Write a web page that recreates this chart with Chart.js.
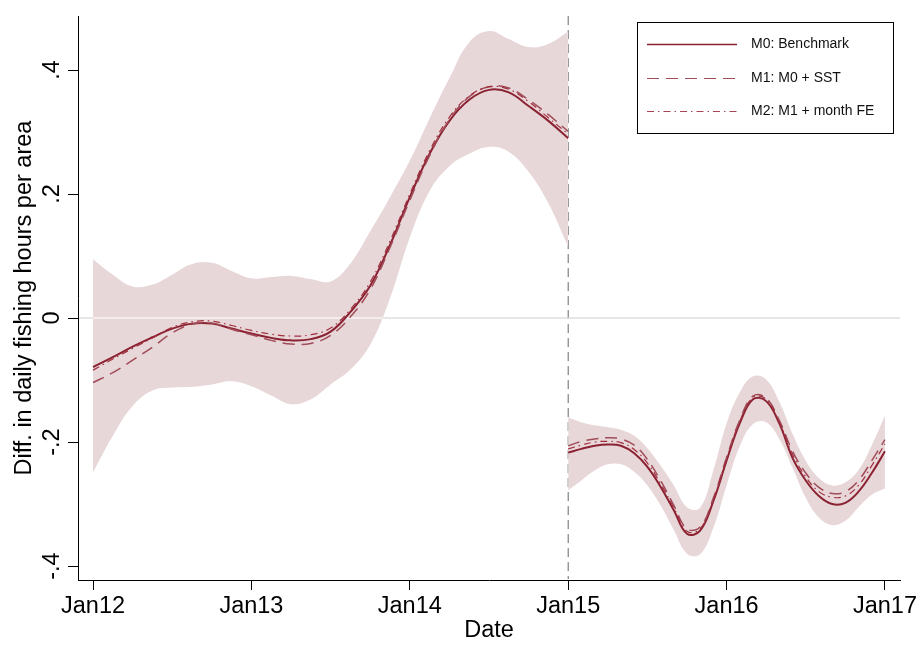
<!DOCTYPE html>
<html lang="en">
<head>
  <meta charset="UTF-8" />
  <title>Diff. in daily fishing hours per area</title>
  <script src="https://cdn.jsdelivr.net/npm/chart.js"></script>
  <style>
    body {
      margin: 0;
      background: #ffffff;
    }
    #wrap {
      width: 923px;
      height: 645px;
    }
  </style>
</head>
<body>
  <div id="wrap"><canvas id="fishChart" width="923" height="645"></canvas></div>

  <script>
    // x positions in years (Jan12 = 2012)
    const preYears = [2012, 2012.125, 2012.25, 2012.375, 2012.5, 2012.625, 2012.75, 2012.875,
      2013, 2013.125, 2013.25, 2013.375, 2013.5, 2013.625, 2013.75, 2013.875,
      2014, 2014.125, 2014.25, 2014.375, 2014.5, 2014.625, 2014.75, 2014.875, 2015];
    const preM0 = [-0.079, -0.063, -0.046, -0.031, -0.017, -0.009, -0.009, -0.017,
      -0.025, -0.032, -0.036, -0.034, -0.022, 0.010, 0.052, 0.118,
      0.195, 0.265, 0.318, 0.352, 0.368, 0.364, 0.342, 0.318, 0.290];
    const preM1 = [-0.104, -0.088, -0.068, -0.047, -0.024, -0.010, -0.008, -0.018,
      -0.027, -0.036, -0.042, -0.041, -0.028, 0.002, 0.046, 0.114,
      0.190, 0.262, 0.320, 0.357, 0.373, 0.371, 0.352, 0.328, 0.301];
    const preM2 = [-0.084, -0.066, -0.049, -0.032, -0.015, -0.006, -0.005, -0.012,
      -0.020, -0.026, -0.029, -0.027, -0.016, 0.014, 0.058, 0.124,
      0.200, 0.270, 0.324, 0.358, 0.373, 0.369, 0.349, 0.323, 0.297];
    const preUpper = [0.095, 0.070, 0.051, 0.054, 0.070, 0.087, 0.089, 0.076,
      0.064, 0.066, 0.068, 0.063, 0.059, 0.088, 0.140, 0.195,
      0.254, 0.322, 0.387, 0.445, 0.463, 0.450, 0.437, 0.442, 0.462];
    const preLower = [-0.249, -0.190, -0.142, -0.117, -0.112, -0.111, -0.107, -0.102,
      -0.110, -0.125, -0.139, -0.131, -0.107, -0.083, -0.043, 0.032,
      0.130, 0.205, 0.245, 0.265, 0.276, 0.268, 0.236, 0.185, 0.115];

    const postYears = [2015, 2015.083, 2015.167, 2015.25, 2015.333, 2015.417, 2015.5, 2015.583,
      2015.667, 2015.75, 2015.833, 2015.917, 2016, 2016.083, 2016.167, 2016.25,
      2016.333, 2016.417, 2016.5, 2016.583, 2016.667, 2016.75, 2016.833, 2016.917, 2017];
    const postM0 = [-0.217, -0.211, -0.206, -0.204, -0.206, -0.218, -0.240, -0.272,
      -0.310, -0.348, -0.343, -0.295, -0.230, -0.170, -0.131, -0.134,
      -0.170, -0.226, -0.262, -0.287, -0.300, -0.298, -0.280, -0.250, -0.215];
    const postM1 = [-0.206, -0.199, -0.195, -0.193, -0.195, -0.205, -0.228, -0.262,
      -0.302, -0.340, -0.337, -0.290, -0.225, -0.165, -0.126, -0.129,
      -0.165, -0.215, -0.250, -0.273, -0.283, -0.280, -0.262, -0.230, -0.196];
    const postM2 = [-0.211, -0.205, -0.200, -0.199, -0.201, -0.212, -0.234, -0.267,
      -0.306, -0.344, -0.340, -0.292, -0.227, -0.167, -0.128, -0.131,
      -0.168, -0.220, -0.256, -0.280, -0.289, -0.287, -0.270, -0.238, -0.203];
    const postUpper = [-0.160, -0.168, -0.173, -0.176, -0.180, -0.190, -0.210, -0.238,
      -0.270, -0.305, -0.306, -0.245, -0.170, -0.120, -0.094, -0.099,
      -0.135, -0.187, -0.230, -0.258, -0.270, -0.265, -0.245, -0.205, -0.157];
    const postLower = [-0.278, -0.262, -0.246, -0.236, -0.236, -0.248, -0.270, -0.302,
      -0.342, -0.380, -0.381, -0.338, -0.270, -0.207, -0.171, -0.168,
      -0.195, -0.242, -0.290, -0.322, -0.334, -0.327, -0.305, -0.285, -0.275];

    const xTickValues = [2012, 2013, 2014, 2015, 2016, 2017];
    const xTickLabels = ['Jan12', 'Jan13', 'Jan14', 'Jan15', 'Jan16', 'Jan17'];
    const yTickValues = [-0.4, -0.2, 0, 0.2, 0.4];
    const yTickLabels = ['-.4', '-.2', '0', '.2', '.4'];
    const breakYear = 2015;
    const modelLabels = ['M0: Benchmark', 'M1: M0 + SST', 'M2: M1 + month FE'];

    const FONT = "'Liberation Sans', Arial, Helvetica, sans-serif";
    const bandColor = '#e8d7d9';
    const lineStyles = [
      { color: '#8b2232', width: 2, dash: [] },
      { color: '#a04c58', width: 1.5, dash: [12, 7] },
      { color: '#a02e3e', width: 1.2, dash: [7, 4, 1.5, 4] }
    ];

    const toPts = (xs, ys) => xs.map((x, i) => ({ x, y: ys[i] }));

    function band(xs, upper, lower) {
      return [
        { label: 'band', data: toPts(xs, upper), borderWidth: 0, pointRadius: 0,
          backgroundColor: bandColor, fill: '+1', tension: 0.4, order: 10 },
        { label: 'band', data: toPts(xs, lower), borderWidth: 0, pointRadius: 0,
          backgroundColor: bandColor, fill: false, tension: 0.4, order: 10 }
      ];
    }

    function modelLine(k, xs, ys) {
      const s = lineStyles[k];
      return {
        label: modelLabels[k],
        data: toPts(xs, ys),
        borderColor: s.color,
        borderWidth: s.width,
        borderDash: s.dash,
        pointRadius: 0,
        fill: false,
        tension: 0.4,
        order: 3 - k
      };
    }

    const datasets = [
      ...band(preYears, preUpper, preLower),
      ...band(postYears, postUpper, postLower),
      modelLine(2, preYears, preM2),
      modelLine(1, preYears, preM1),
      modelLine(0, preYears, preM0),
      modelLine(2, postYears, postM2),
      modelLine(1, postYears, postM1),
      modelLine(0, postYears, postM0)
    ];

    // zero line and the Jan15 break line: light over the bands, darker elsewhere
    const refLines = {
      id: 'refLines',
      afterDatasetDraw(chart, args) {
        if (args.index !== 0) return;
        const { ctx, chartArea: a, scales: { x, y } } = chart;
        const xb = x.getPixelForValue(breakYear);
        const y0 = y.getPixelForValue(0);
        ctx.save();
        ctx.beginPath();
        ctx.rect(a.left + 1, a.top, a.right - a.left - 1, a.bottom - a.top - 1);
        ctx.clip();

        ctx.globalCompositeOperation = 'source-atop';
        ctx.strokeStyle = '#f7f4f4';
        ctx.lineWidth = 1.5;
        ctx.beginPath(); ctx.moveTo(a.left, y0); ctx.lineTo(a.right, y0); ctx.stroke();
        ctx.setLineDash([9, 5]);
        ctx.lineWidth = 1;
        ctx.beginPath(); ctx.moveTo(xb, a.top); ctx.lineTo(xb, a.bottom); ctx.stroke();

        ctx.globalCompositeOperation = 'destination-over';
        ctx.setLineDash([]);
        ctx.strokeStyle = '#dedede';
        ctx.lineWidth = 1.5;
        ctx.beginPath(); ctx.moveTo(a.left, y0); ctx.lineTo(a.right, y0); ctx.stroke();
        ctx.setLineDash([9, 5]);
        ctx.strokeStyle = '#666666';
        ctx.lineWidth = 1;
        ctx.beginPath(); ctx.moveTo(xb, a.top); ctx.lineTo(xb, a.bottom); ctx.stroke();
        ctx.restore();
      }
    };

    // boxed legend in the upper right corner
    const boxLegend = {
      id: 'boxLegend',
      afterDraw(chart) {
        const ctx = chart.ctx;
        const bx = 637, by = 22, bw = 256, bh = 111;
        ctx.save();
        ctx.fillStyle = '#ffffff';
        ctx.fillRect(bx, by, bw, bh);
        ctx.strokeStyle = '#000000';
        ctx.lineWidth = 1;
        ctx.strokeRect(bx + 0.5, by + 0.5, bw, bh);
        const rows = [44, 78, 111];
        ctx.font = '14px ' + FONT;
        ctx.textBaseline = 'middle';
        ctx.fillStyle = '#111111';
        modelLabels.forEach((lab, k) => {
          const s = lineStyles[k];
          ctx.strokeStyle = s.color;
          ctx.lineWidth = s.width * 0.75;
          ctx.setLineDash(s.dash);
          ctx.beginPath();
          ctx.moveTo(647, rows[k] + 0.5);
          ctx.lineTo(737, rows[k] + 0.5);
          ctx.stroke();
          ctx.setLineDash([]);
          ctx.fillText(lab, 751, rows[k]);
        });
        ctx.restore();
      }
    };

    new Chart(document.getElementById('fishChart').getContext('2d'), {
      type: 'line',
      data: { datasets },
      options: {
        responsive: false,
        animation: false,
        devicePixelRatio: 1,
        layout: { padding: { top: 14, right: 23, left: 0, bottom: 0 } },
        plugins: {
          legend: { display: false },
          tooltip: { enabled: false }
        },
        scales: {
          x: {
            type: 'linear',
            min: 2011.905,
            max: 2017.095,
            afterBuildTicks: s => { s.ticks = xTickValues.map(v => ({ value: v })); },
            afterFit: s => { s.height = 65; },
            grid: { drawOnChartArea: false, drawTicks: true, tickLength: 10, color: '#000' },
            border: { display: true, color: '#000', width: 1 },
            ticks: {
              autoSkip: false,
              maxRotation: 0,
              padding: 2,
              color: '#000',
              font: { family: FONT, size: 23.5 },
              callback: (v, i) => xTickLabels[i]
            },
            title: {
              display: true,
              text: 'Date',
              color: '#000',
              font: { family: FONT, size: 23.5 },
              padding: { top: 0, bottom: 0 }
            }
          },
          y: {
            type: 'linear',
            min: -0.4225,
            max: 0.487,
            afterBuildTicks: s => { s.ticks = yTickValues.map(v => ({ value: v })); },
            afterFit: s => { s.width = 78; },
            grid: { drawOnChartArea: false, drawTicks: true, tickLength: 10, color: '#000' },
            border: { display: true, color: '#000', width: 1 },
            ticks: {
              autoSkip: false,
              minRotation: 90,
              maxRotation: 90,
              crossAlign: 'center',
              padding: 2,
              color: '#000',
              font: { family: FONT, size: 23.5 },
              callback: (v, i) => yTickLabels[i]
            },
            title: {
              display: true,
              text: 'Diff. in daily fishing hours per area',
              color: '#000',
              font: { family: FONT, size: 23.5 },
              padding: { top: 10, bottom: 0 }
            }
          }
        }
      },
      plugins: [refLines, boxLegend]
    });
  </script>
</body>
</html>
